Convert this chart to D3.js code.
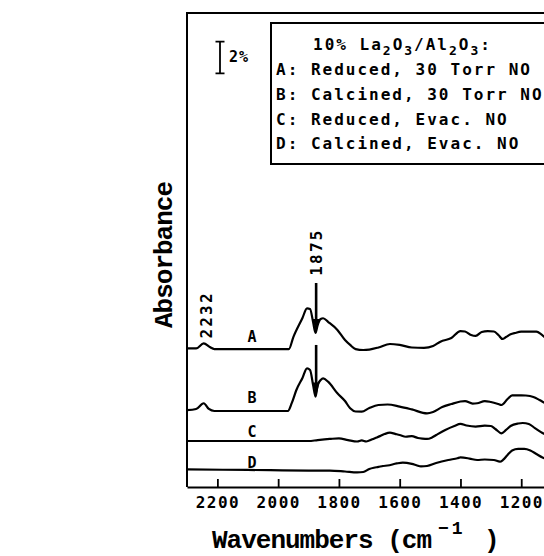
<!DOCTYPE html>
<html>
<head>
<meta charset="utf-8">
<script src="https://cdn.jsdelivr.net/npm/d3@7/dist/d3.min.js"></script>
<style>
html,body{margin:0;padding:0;background:#fff;}
svg{display:block;}
</style>
</head>
<body>
<svg id="chart" width="544" height="556"></svg>
<script>
// ---- data (wavenumber in cm^-1, absorbance in % with stacking offset) ----
const wnA = [2300,2270,2245,2225,2210,2100,2000,1965,1950,1920,1905,1895,1885,1877,1870,1860,1852,1835,1805,1780,1763,1745,1720,1700,1670,1632,1600,1560,1520,1490,1466,1430,1400,1385,1365,1350,1330,1310,1290,1275,1262,1250,1235,1220,1200,1170,1150,1135,1120,1100];
const absA = [8.78,8.77,9.09,8.86,8.73,8.73,8.73,8.72,9.49,10.70,11.31,11.27,10.44,9.75,10.25,10.63,10.68,10.44,9.94,9.30,8.99,8.73,8.67,8.70,8.83,9.05,8.99,8.83,8.80,8.92,9.20,9.43,9.87,9.84,9.62,9.56,9.81,9.87,9.84,9.62,9.37,9.49,9.66,9.75,9.83,9.84,9.83,9.68,9.43,9.18];

const wnB = [2300,2270,2245,2228,2210,2100,1968,1955,1940,1920,1905,1895,1885,1877,1870,1860,1852,1835,1805,1780,1763,1745,1725,1700,1670,1640,1600,1560,1510,1490,1460,1430,1400,1385,1360,1345,1320,1300,1275,1265,1245,1230,1200,1185,1160,1140,1120,1100];
const absB = [4.87,4.94,5.30,4.94,4.81,4.81,4.81,5.32,6.14,6.90,7.51,7.41,6.46,5.72,6.46,6.77,6.88,6.65,5.93,5.44,4.98,4.78,4.77,5.00,5.19,5.22,5.09,4.91,4.66,4.75,5.06,5.25,5.41,5.44,5.28,5.30,5.44,5.38,5.25,5.19,5.57,5.80,5.80,5.79,5.70,5.51,5.30,5.13];

const wnC = [2300,2100,1900,1870,1830,1800,1770,1740,1725,1710,1690,1680,1665,1650,1632,1615,1600,1580,1560,1540,1525,1510,1495,1480,1450,1420,1400,1380,1350,1320,1300,1285,1265,1250,1235,1210,1195,1175,1155,1130,1110,1100];
const absC = [2.91,2.91,2.91,2.97,3.04,3.08,2.97,2.88,2.95,2.88,3.02,3.10,3.22,3.35,3.44,3.36,3.29,3.18,3.22,3.10,3.06,3.04,3.12,3.29,3.61,3.86,3.99,3.89,3.82,3.88,3.86,3.67,3.40,3.61,3.86,4.02,4.05,3.99,3.73,3.42,3.23,3.16];

const wnD = [2300,2100,1900,1830,1780,1740,1720,1700,1685,1670,1655,1640,1610,1590,1560,1545,1530,1510,1480,1440,1410,1400,1370,1345,1320,1290,1270,1260,1245,1230,1210,1190,1170,1150,1130,1110,1100];
const absD = [1.11,1.08,1.04,1.04,0.98,0.92,0.95,1.14,1.22,1.27,1.33,1.36,1.49,1.54,1.46,1.38,1.30,1.33,1.52,1.71,1.82,1.87,1.80,1.71,1.74,1.71,1.60,1.71,2.03,2.31,2.41,2.41,2.31,2.09,1.87,1.74,1.71];

const traceNames = ["A","B","C","D"];
const labelWn = [2086,2086,2086,2086];
const labelAbs = [9.2,5.32,3.18,1.20];

const xTicks = [2200,2000,1800,1600,1400,1200];
const peakWn = [2232,1875];
const peakLabelAbs = [10.89,14.87];
const arrowStartAbs = [12.91,8.99];
const arrowTipAbs = [9.75,5.72];

const legendTitle = ["10% La","2","O","3","/Al","2","O","3",":"];
const legendLines = ["A: Reduced, 30 Torr NO","B: Calcined, 30 Torr NO","C: Reduced, Evac. NO","D: Calcined, Evac. NO"];
const scaleBarPct = 2;
const xTitle = "Wavenumbers (cm";
const yTitle = "Absorbance";

// ---- layout ----
const svg = d3.select("#chart");
const L = 187, T = 13, B = 487, R = 582;
const x = d3.scaleLinear().domain([2300,1000]).range([L,R]);
const y = d3.scaleLinear().domain([0,30]).range([B,T]);

const mono = "'DejaVu Sans Mono', monospace";
const courier = "'Liberation Mono', 'Courier New', monospace";

// frame
svg.append("path")
  .attr("d", `M${R+10},${T}H${L}V${B}`)
  .attr("fill","none").attr("stroke","#000").attr("stroke-width",2);

// bottom axis (ticks pointing up)
const ax = svg.append("g").attr("transform",`translate(0,${B})`)
  .call(d3.axisBottom(x).tickValues(xTicks).tickSizeInner(-8).tickSizeOuter(0).tickPadding(10).tickFormat(d3.format("d")));
ax.select(".domain").attr("stroke-width",2);
ax.selectAll(".tick line").attr("stroke-width",1.8);
ax.selectAll(".tick text")
  .attr("font-family",mono).attr("font-size",16).attr("font-weight","bold")
  .attr("letter-spacing","1.4px").attr("fill","#000");

// spectra
const line = d3.line().x(d=>x(d[0])).y(d=>y(d[1])).curve(d3.curveMonotoneX);
const traces = [[wnA,absA],[wnB,absB],[wnC,absC],[wnD,absD]];
traces.forEach(([w,a])=>{
  svg.append("path").datum(w.map((v,i)=>[v,a[i]]))
    .attr("d",line).attr("fill","none").attr("stroke","#000")
    .attr("stroke-width",2.2).attr("stroke-linejoin","round");
});

// trace labels
traceNames.forEach((n,i)=>{
  svg.append("text").attr("x",x(labelWn[i])).attr("y",y(labelAbs[i]))
    .attr("text-anchor","middle").attr("font-family",mono).attr("font-weight","bold")
    .attr("font-size",15).text(n);
});

// peak labels (rotated)
peakWn.forEach((w,i)=>{
  const px = x(w) + (i===0?4:6), py = y(peakLabelAbs[i]);
  svg.append("text").attr("transform",`translate(${px},${py}) rotate(-90)`)
    .attr("text-anchor","middle").attr("font-family",mono).attr("font-weight","bold")
    .attr("font-size",16).attr("letter-spacing","2.2px").text(String(w));
});

// arrows at 1875 for traces A and B
arrowStartAbs.forEach((s,i)=>{
  const px = x(1875), y0 = y(s), y1 = y(arrowTipAbs[i]);
  svg.append("line").attr("x1",px).attr("x2",px).attr("y1",y0).attr("y2",y1-10)
    .attr("stroke","#000").attr("stroke-width",2.6);
  svg.append("path").attr("d",`M${px-3.5},${y1-14}L${px+3.5},${y1-14}L${px},${y1}Z`).attr("fill","#000");
});

// scale bar (2%)
const sbX = 220, sbBase = (487-73.3)/15.8;
const sbTop = y(scaleBarPct + sbBase), sbBot = y(sbBase);
svg.append("path").attr("d",`M${sbX-4.5},${sbTop}H${sbX+4.5}M${sbX},${sbTop}V${sbBot}M${sbX-4.5},${sbBot}H${sbX+4.5}`)
  .attr("stroke","#000").attr("stroke-width",1.8).attr("fill","none");
svg.append("text").attr("x",229).attr("y",62).attr("font-family",mono).attr("font-weight","bold")
  .attr("font-size",15).attr("letter-spacing","1px").text(scaleBarPct+"%");

// legend box
svg.append("rect").attr("x",271).attr("y",23).attr("width",320).attr("height",141)
  .attr("fill","#fff").attr("stroke","#000").attr("stroke-width",2);
const lt = svg.append("text").attr("x",313).attr("y",50).attr("font-family",mono)
  .attr("font-weight","bold").attr("font-size",16).attr("letter-spacing","2px");
legendTitle.forEach((s,i)=>{
  const sub = (s==="2"||s==="3");
  const prevSub = i>0 && (legendTitle[i-1]==="2"||legendTitle[i-1]==="3");
  let dy = 0;
  if (sub && !prevSub) dy = 5; else if (!sub && prevSub) dy = -5;
  lt.append("tspan").attr("dy",dy).attr("font-size",sub?13:16).text(s);
});
const lineY = [75,100,124.5,149];
legendLines.forEach((s,i)=>{
  svg.append("text").attr("x",276).attr("y",lineY[i]).attr("font-family",mono)
    .attr("font-weight","bold").attr("font-size",16).attr("letter-spacing","2px")
    .attr("xml:space","preserve").text(s);
});

// axis titles
svg.append("text").attr("transform","translate(172,255) rotate(-90)")
  .attr("text-anchor","middle").attr("font-family",courier).attr("font-weight","bold")
  .attr("font-size",26).attr("letter-spacing","-1px").text(yTitle);
const xt = svg.append("text").attr("x",212).attr("y",548).attr("font-family",courier)
  .attr("font-weight","bold").attr("font-size",26).attr("letter-spacing","-1px");
xt.append("tspan").text(xTitle);
xt.append("tspan").attr("x",438).attr("dy",-14).attr("font-size",18).attr("letter-spacing","3px").text("−1");
xt.append("tspan").attr("x",484).attr("dy",14).text(")");
</script>
</body>
</html>
